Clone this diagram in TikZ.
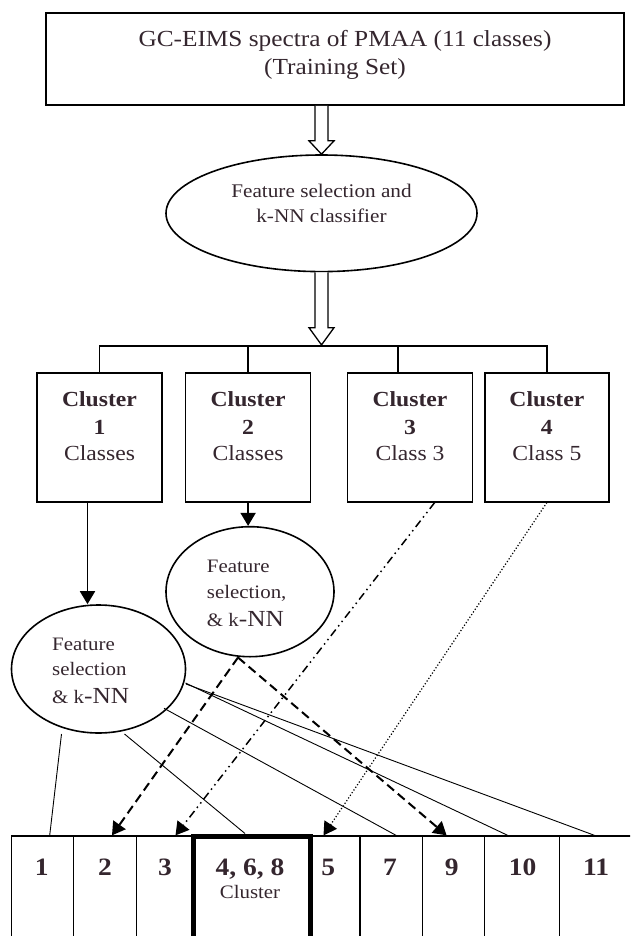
\documentclass[tikz,border=0pt]{standalone}
\usepackage{fontspec}
\setmainfont{Liberation Serif}[FakeStretch=1.1]
\usetikzlibrary{arrows.meta,calc,shapes.geometric}
\definecolor{txt}{RGB}{52,38,46}
\begin{document}
\begin{tikzpicture}[x=1pt,y=-1pt,
  box/.style={draw, line width=1.6pt, inner sep=0pt},
  ell/.style={draw, ellipse, line width=1.6pt, inner sep=0pt},
  cell/.style={draw, line width=1.3pt, inner sep=0pt, minimum height=120pt},
  hollow/.style={draw, line width=1.3pt, fill=white, line join=miter},
  fine/.style={line width=0.9pt},
  bar/.style={line width=1.6pt},
  arr/.style={line width=1.8pt, -{Triangle[length=13pt,width=15pt]}},
  dsh/.style={arr, line width=2pt, dash pattern=on 9pt off 5pt},
  dshdot/.style={arr, line width=1.5pt, dash pattern=on 8pt off 4pt on 1.5pt off 4pt on 1.5pt off 4pt},
  dotl/.style={arr, line width=1.2pt, dash pattern=on 1.2pt off 2pt},
  ttl/.style={font=\fontsize{23}{28}\selectfont, text=txt, anchor=base, inner sep=0pt},
  etxt/.style={font=\fontsize{19.3}{23}\selectfont, text=txt, anchor=base, inner sep=0pt},
  ftxt/.style={font=\fontsize{19}{23}\selectfont, text=txt, anchor=base west, inner sep=0pt},
  cbold/.style={font=\bfseries\fontsize{21.5}{26}\selectfont, text=txt, anchor=base, inner sep=0pt},
  ctxt/.style={font=\fontsize{21.5}{26}\selectfont, text=txt, anchor=base, inner sep=0pt},
  num/.style={font=\bfseries\fontsize{25}{28}\selectfont, text=txt, anchor=base, inner sep=0pt},
  small/.style={font=\fontsize{19}{22}\selectfont, text=txt, anchor=base, inner sep=0pt}
]
\useasboundingbox (0,0) rectangle (630,936);
\clip (0,0) rectangle (630,936);

% top box
\node[box, minimum width=578pt, minimum height=92.3pt] (top) at (335,58.9) {};
\node[ttl] (t1) at (345,46.7) {GC-EIMS spectra of PMAA (11 classes)};
\node[ttl] (t2) at (335,74.5) {(Training Set)};

% first ellipse
\node[ell, minimum width=311pt, minimum height=116.6pt] (e1) at (321.5,213.3) {};
\node[etxt] (e1a) at (321.5,197.3) {Feature selection and};
\node[etxt] (e1b) at (321.5,222.7) {k-NN classifier};

% hollow arrow 1
\coordinate (h1) at (e1.north |- top.south);
\draw[hollow] ($(h1)+(-6.5,0)$) -- ($(h1)+(-6.5,35)$) -- ($(h1)+(-12.5,35)$) -- (e1.north)
  -- ($(h1)+(12.5,35)$) -- ($(h1)+(6.5,35)$) -- ($(h1)+(6.5,0)$);

% cluster boxes
\node[box, minimum width=125pt, minimum height=129pt] (b1) at (99.5,437.2) {};
\node[box, minimum width=125pt, minimum height=129pt] (b2) at (248.1,437.2) {};
\node[box, minimum width=125pt, minimum height=129pt] (b3) at (410,437.2) {};
\node[box, minimum width=124pt, minimum height=129pt] (b4) at (546.9,437.2) {};

\node[cbold] (b1a) at ($(b1.center)+(0,-31.2)$) {Cluster};
\node[cbold] (b1b) at ($(b1.center)+(0,-3.2)$) {1};
\node[ctxt]  (b1c) at ($(b1.center)+(0,22.8)$) {Classes};
\node[cbold] (b2a) at ($(b2.center)+(0,-31.2)$) {Cluster};
\node[cbold] (b2b) at ($(b2.center)+(0,-3.2)$) {2};
\node[ctxt]  (b2c) at ($(b2.center)+(0,22.8)$) {Classes};
\node[cbold] (b3a) at ($(b3.center)+(0,-31.2)$) {Cluster};
\node[cbold] (b3b) at ($(b3.center)+(0,-3.2)$) {3};
\node[ctxt]  (b3c) at ($(b3.center)+(0,22.8)$) {Class 3};
\node[cbold] (b4a) at ($(b4.center)+(0,-31.2)$) {Cluster};
\node[cbold] (b4b) at ($(b4.center)+(0,-3.2)$) {4};
\node[ctxt]  (b4c) at ($(b4.center)+(0,22.8)$) {Class 5};

% branching bar
\coordinate (bar) at ($(b1.north)+(0,-26)$);
\draw[bar] (b1.north) -- (bar) -| (b4.north);
\draw[bar] (b2.north) -- (b2.north |- bar);
\draw[bar] ($(b3.north)+(-12,0)$) -- ($(b3.north)+(-12,-26)$);

% hollow arrow 2
\coordinate (h2) at (e1.south);
\coordinate (h2t) at ($(h2 |- bar)+(0,-1)$);
\draw[hollow] ($(h2)+(-6.5,0)$) -- ($(h2)+(-6.5,55.3)$) -- ($(h2)+(-12.5,55.3)$) -- (h2t)
  -- ($(h2)+(12.5,55.3)$) -- ($(h2)+(6.5,55.3)$) -- ($(h2)+(6.5,0)$);

% second-level ellipses
\node[ell, minimum width=174pt, minimum height=128pt] (e2) at (98.5,669) {};
\node[ell, minimum width=168pt, minimum height=130pt] (e3) at (250,591.7) {};

\node[ftxt] (e3a) at (206.7,572.7) {Feature};
\node[ftxt] (e3b) at (206.7,598.3) {selection,};
\node[ftxt] (e3c) at (206.7,626.7) {\& k{\fontsize{23}{26}\selectfont -NN}};
\node[ftxt] (e2a) at (52,650.7) {Feature};
\node[ftxt] (e2b) at (52,675) {selection};
\node[ftxt] (e2c) at (52,703.3) {\& k{\fontsize{23}{26}\selectfont -NN}};

% bottom row of cells
\node[cell, minimum width=62pt]   (c1)  at (42.5,896) {};
\node[cell, minimum width=63pt]   (c2)  at (105,896) {};
\node[cell, minimum width=56.5pt] (c3)  at (164.75,896) {};
\node[cell, minimum width=50pt]   (c5)  at (335,896) {};
\node[cell, minimum width=62.7pt] (c7)  at (391.35,896) {};
\node[cell, minimum width=61.8pt] (c9)  at (453.6,896) {};
\node[cell, minimum width=74.8pt] (c10) at (521.9,896) {};
\node[cell, minimum width=80.7pt] (c11) at (599.65,896) {};
\node[cell, line width=5pt, minimum width=117pt] (c468) at (251.5,896) {};

\node[num] (n1)  at (41.7,875) {1};
\node[num] (n2)  at (105,875) {2};
\node[num] (n3)  at (165,875) {3};
\node[num] (n4)  at (250,875) {4, 6, 8};
\node[small] (n4b) at (250,898) {Cluster};
\node[num] (n5)  at (328.3,875) {5};
\node[num] (n7)  at (390,875) {7};
\node[num] (n9)  at (451.7,875) {9};
\node[num] (n10) at (522.7,875) {10};
\node[num] (n11) at (596,875) {11};

% connectors
\draw[arr] ($(b1.south)+(-12,0)$) -- ($(e2.north)+(-11,0)$);
\draw[arr] (b2.south) -- (b2.south |- e3.north);
\draw[dsh] ($(e3.south)+(-12,0)$) -- ($(c2.north)+(7,0)$);
\draw[dsh] ($(e3.south)+(-12,0)$) -- ($(c9.north)+(-7,0)$);
\draw[dshdot] ($(b3.south)+(24.7,0)$) -- ($(c3.north)+(10.75,0)$);
\draw[dotl] (b4.south) -- ($(c5.north)+(-11.5,0)$);

\draw[fine] ($(e2.center)+(-37,65)$) -- ($(c1.north)+(7.2,0)$);
\draw[fine] ($(e2.center)+(26,65)$) -- ($(c468.north)+(-6.5,0)$);
\draw[fine] ($(e2.center)+(65.5,39.3)$) -- ($(c7.north)+(4.7,0)$);
\draw[fine] ($(e2.center)+(87,14)$) -- ($(c10.north)+(-14.2,0)$);
\draw[fine] ($(e2.center)+(87.5,15)$) -- ($(c11.north)+(-5.15,0)$);
\end{tikzpicture}
\end{document}
